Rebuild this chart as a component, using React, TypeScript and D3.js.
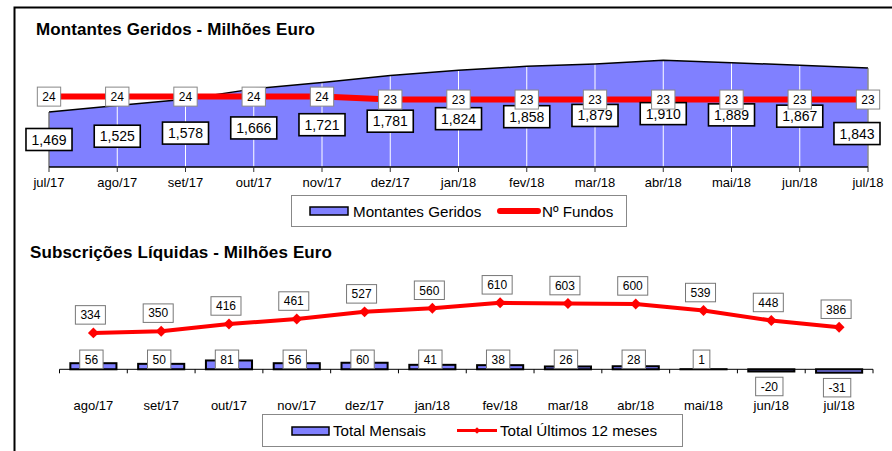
import React from 'react';
import * as d3 from 'd3';

const topMonths = ['jul/17', 'ago/17', 'set/17', 'out/17', 'nov/17', 'dez/17', 'jan/18', 'fev/18', 'mar/18', 'abr/18', 'mai/18', 'jun/18', 'jul/18'];
const montantes = [1469, 1525, 1578, 1666, 1721, 1781, 1824, 1858, 1879, 1910, 1889, 1867, 1843];
const nFundos = [24, 24, 24, 24, 24, 23, 23, 23, 23, 23, 23, 23, 23];
const bottomMonths = ['ago/17', 'set/17', 'out/17', 'nov/17', 'dez/17', 'jan/18', 'fev/18', 'mar/18', 'abr/18', 'mai/18', 'jun/18', 'jul/18'];
const totalMensais = [56, 50, 81, 56, 60, 41, 38, 26, 28, 1, -20, -31];
const totalUltimos12 = [334, 350, 416, 461, 527, 560, 610, 603, 600, 539, 448, 386];

const FONT = 'Arial, "Liberation Sans", sans-serif';
const BLUE = '#8080ff';
const RED = '#ff0000';
const fmt = d3.format(',');

let ctx: CanvasRenderingContext2D | null = null;
function measure(text: string, size: number, bold = false) {
  if (!ctx) ctx = document.createElement('canvas').getContext('2d');
  if (!ctx) return text.length * size * 0.556;
  ctx.font = `${bold ? 'bold ' : ''}${size}px "Liberation Sans", Arial, sans-serif`;
  return ctx.measureText(text).width;
}

function LabelBox({ cx, cy, text, size, pad, h, stroke, sw }: any) {
  const w = measure(text, size) + 2 * pad;
  return (
    <g>
      <rect x={cx - w / 2} y={cy - h / 2} width={w} height={h} fill="#fff" stroke={stroke} strokeWidth={sw} />
      <text x={cx} y={cy} dy="0.36em" textAnchor="middle" fontSize={size} fontFamily={FONT} fill="#000">{text}</text>
    </g>
  );
}

export default function App() {
  // ---------- top chart ----------
  const xTop = d3.scalePoint<string>().domain(topMonths).range([49, 868]);
  const yMont = d3.scaleLinear().domain([1000, 2000]).range([167, 49.7]);
  const yFund = d3.scaleLinear().domain([0, 40]).range([167, 49.7]);
  const plotTop = yMont(2000);
  const base = yMont(1000);

  const areaGen = d3.area<number>()
    .x((_, i) => xTop(topMonths[i])!)
    .y0(base)
    .y1((d) => yMont(d));
  const topLine = d3.line<number>().x((_, i) => xTop(topMonths[i])!).y((d) => yMont(d));
  const fundLine = d3.line<number>().x((_, i) => xTop(topMonths[i])!).y((d) => yFund(d));

  const chartRight = 880;

  // ---------- bottom chart ----------
  const xBot = d3.scaleBand<string>().domain(bottomMonths).range([59.5, 873]).paddingInner(0.32).paddingOuter(0.16);
  const bw = xBot.bandwidth();
  const step = xBot.step();
  const yBot = d3.scaleLinear().domain([0, 700]).range([369.3, 293]);
  const zero = yBot(0);
  const cxB = (m: string) => xBot(m)! + bw / 2;
  const ultLine = d3.line<number>().x((_, i) => cxB(bottomMonths[i])).y((d) => yBot(d));
  const diamond = d3.symbol().type(d3.symbolSquare).size(60)();

  return (
    <svg width={892} height={451} style={{ position: 'absolute', left: 0, top: 0, background: '#fff' }}>
      <rect x={0} y={0} width={892} height={451} fill="#fff" />
      {/* frame */}
      <path d="M14.5,451 V7.5 H892" fill="none" stroke="#000" strokeWidth={2} />

      {/* ===== TOP ===== */}
      <text x={36} y={35} fontSize={17} fontWeight="bold" fontFamily={FONT} textLength={279}>Montantes Geridos - Milhões Euro</text>

      <path d={areaGen(montantes)!} fill={BLUE} stroke="none" />
      {topMonths.map((m) => (
        <line key={'g' + m} x1={xTop(m)} x2={xTop(m)} y1={plotTop} y2={base} stroke="#fff" strokeWidth={1} />
      ))}
      <path d={topLine(montantes)!} fill="none" stroke="#000" strokeWidth={1.5} />
      <line x1={xTop(topMonths[0])} x2={xTop(topMonths[0])} y1={yMont(montantes[0])} y2={base} stroke="#333" strokeWidth={1} />
      <line x1={xTop(topMonths[12])} x2={xTop(topMonths[12])} y1={yMont(montantes[12])} y2={base} stroke="#555" strokeWidth={1} />
      <line x1={xTop(topMonths[0])} x2={xTop(topMonths[12])} y1={base} y2={base} stroke="#000" strokeWidth={1.5} />
      {topMonths.map((m) => (
        <g key={'t' + m}>
          <line x1={xTop(m)} x2={xTop(m)} y1={base} y2={base + 5} stroke="#333" strokeWidth={1} />
          <text x={xTop(m)} y={187} textAnchor="middle" fontSize={13} fontFamily={FONT}>{m}</text>
        </g>
      ))}
      <path d={fundLine(nFundos)!} fill="none" stroke={RED} strokeWidth={6} />
      {montantes.map((v, i) => {
        const text = fmt(v);
        const w = measure(text, 14) + 11;
        let cx = xTop(topMonths[i])!;
        let cy = (yMont(v) + base) / 2;
        if (cx + w / 2 > chartRight) {
          cx = chartRight - w / 2;
          cy += 16;
        }
        return <LabelBox key={'ml' + i} cx={cx} cy={cy} text={text} size={14} pad={5.5} h={22} stroke="#000" sw={1.6} />;
      })}
      {nFundos.map((v, i) => (
        <LabelBox key={'fl' + i} cx={xTop(topMonths[i])} cy={yFund(v)} text={String(v)} size={12} pad={5} h={19} stroke="#888" sw={1} />
      ))}

      {/* top legend */}
      <rect x={291.5} y={195.5} width={335} height={31} fill="#fff" stroke="#888" strokeWidth={1} />
      <rect x={310} y={207} width={38} height={8} fill={BLUE} stroke="#000" strokeWidth={1.5} />
      <text x={353} y={217} fontSize={15.2} fontFamily={FONT}>Montantes Geridos</text>
      <line x1={500} x2={538} y1={211} y2={211} stroke={RED} strokeWidth={6} strokeLinecap="round" />
      <text x={542} y={217} fontSize={15.2} fontFamily={FONT}>Nº Fundos</text>

      {/* ===== BOTTOM ===== */}
      <text x={30} y={258} fontSize={17} fontWeight="bold" fontFamily={FONT} textLength={302}>Subscrições Líquidas - Milhões Euro</text>

      {totalMensais.map((v, i) => {
        const m = bottomMonths[i];
        const y1 = yBot(Math.max(v, 0));
        const h = Math.abs(yBot(v) - zero);
        return <rect key={'b' + m} x={xBot(m)} y={y1} width={bw} height={h} fill={BLUE} stroke="#000" strokeWidth={2} />;
      })}
      <line x1={59.5} x2={873} y1={zero} y2={zero} stroke="#000" strokeWidth={1} />
      {d3.range(bottomMonths.length + 1).map((i) => (
        <line key={'bt' + i} x1={59.5 + i * step} x2={59.5 + i * step} y1={zero} y2={zero + 4} stroke="#000" strokeWidth={1} />
      ))}
      {bottomMonths.map((m) => (
        <text key={'bl' + m} x={cxB(m)} y={410} textAnchor="middle" fontSize={13} fontFamily={FONT}>{m}</text>
      ))}
      <path d={ultLine(totalUltimos12)!} fill="none" stroke={RED} strokeWidth={4} strokeLinejoin="round" />
      {totalUltimos12.map((v, i) => (
        <path key={'d' + i} d={diamond!} transform={`translate(${cxB(bottomMonths[i])},${yBot(v)}) rotate(45)`} fill={RED} />
      ))}
      {totalUltimos12.map((v, i) => (
        <LabelBox key={'ul' + i} cx={cxB(bottomMonths[i]) - 3} cy={yBot(v) - 18} text={String(v)} size={12} pad={5} h={18.5} stroke="#777" sw={1} />
      ))}
      {totalMensais.map((v, i) => (
        <LabelBox key={'tl' + i} cx={cxB(bottomMonths[i]) - 2} cy={v >= 0 ? zero - 10 : yBot(v) + 15} text={String(v)} size={12} pad={5} h={18.5} stroke="#777" sw={1} />
      ))}

      {/* bottom legend */}
      <rect x={262.5} y={414.5} width={420} height={32} fill="#fff" stroke="#888" strokeWidth={1} />
      <rect x={292} y={427} width={37} height={8} fill={BLUE} stroke="#000" strokeWidth={1.5} />
      <text x={333} y={436} fontSize={15.2} fontFamily={FONT}>Total Mensais</text>
      <line x1={457} x2={497} y1={430.5} y2={430.5} stroke={RED} strokeWidth={3} />
      <path d={d3.symbol().type(d3.symbolSquare).size(22)()!} transform="translate(477,430.5) rotate(45)" fill={RED} />
      <text x={500} y={436} fontSize={15.2} fontFamily={FONT}>Total Últimos 12 meses</text>
    </svg>
  );
}
